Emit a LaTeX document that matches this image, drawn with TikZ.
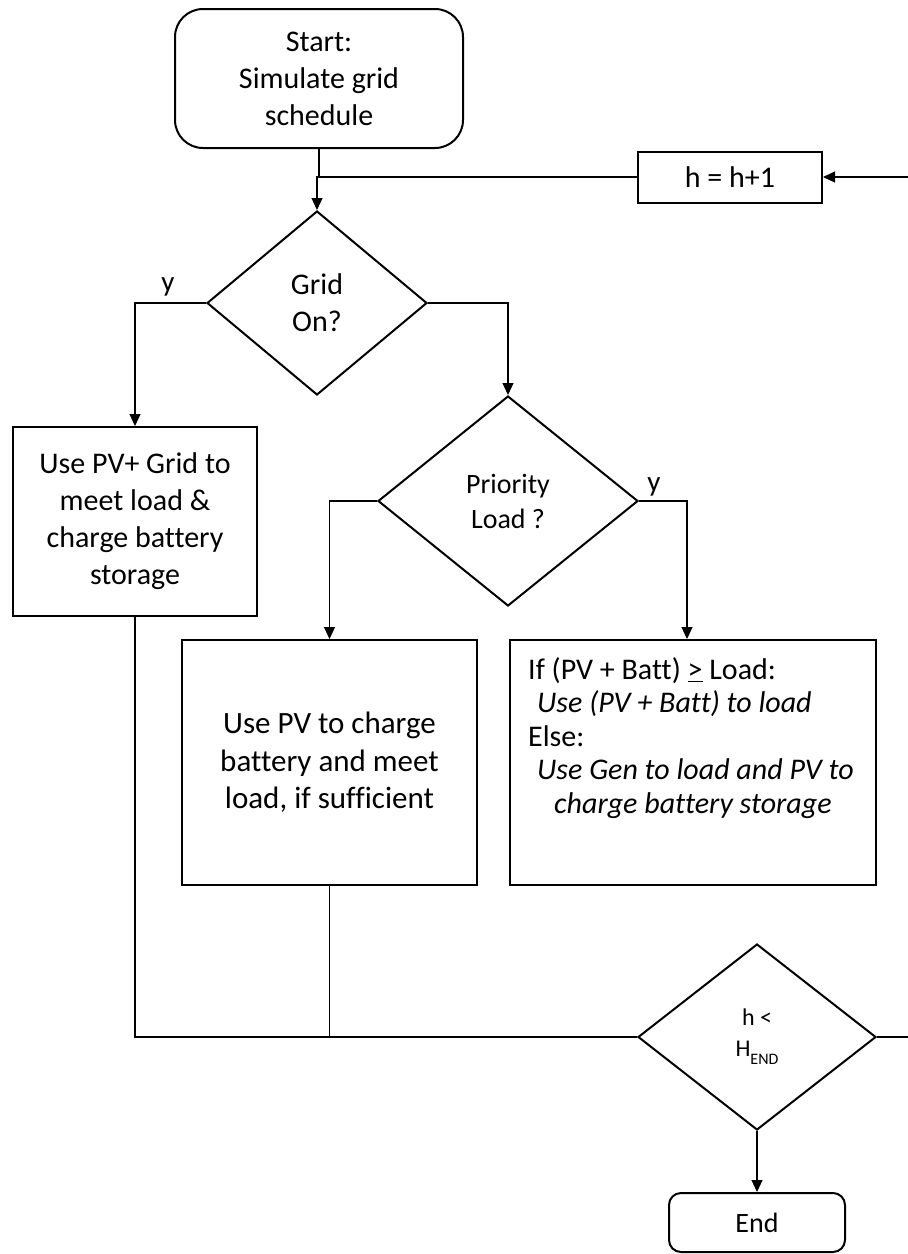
\documentclass[tikz,border=0pt]{standalone}
\usepackage{fontspec}
\setmainfont{Carlito}[Ligatures=NoCommon]
\usetikzlibrary{shapes.geometric,arrows.meta}
\begin{document}
\begin{tikzpicture}[x=1pt,y=-1pt,
  boxline/.style={draw=black,line width=2pt},
  procbox/.style={boxline,rectangle,inner sep=0pt,align=center},
  termbox/.style={boxline,rectangle,rounded corners=28pt,inner sep=0pt,align=center},
  decbox/.style={boxline,diamond,inner sep=0pt,align=center},
  conn/.style={draw=black,line width=1.1pt},
  arr/.style={conn,-{Triangle[length=12pt,width=11pt]}},
  txt30/.style={font=\fontsize{30}{37}\selectfont},
  lbl/.style={font=\fontsize{29}{34}\selectfont,inner sep=0pt}
]
\useasboundingbox (0,0) rectangle (908,1254);
\clip (0,0) rectangle (908,1254);

% nodes
\node[termbox,txt30,minimum width=288pt,minimum height=139pt] (start) at (319,78.5)
  {Start:\\Simulate grid\\schedule};
\node[procbox,txt30,minimum width=184pt,minimum height=51pt] (hinc) at (730,177)
  {h = h+1};
\node[decbox,txt30,minimum width=220pt,minimum height=184pt] (grid) at (317,303)
  {Grid\\On?};
\node[procbox,txt30,minimum width=244pt,minimum height=189pt] (pvgrid) at (135,521.5)
  {Use PV+ Grid to\\meet load \&\\charge battery\\storage};
\node[decbox,font=\fontsize{28}{35}\selectfont,minimum width=260pt,minimum height=210pt] (prio) at (508,501)
  {Priority\\Load ?};
\node[procbox,font=\fontsize{31}{37.5}\selectfont,minimum width=295pt,minimum height=245pt] (pvbatt) at (329.5,762.5)
  {Use PV to charge\\battery and meet\\load, if sufficient};
\node[procbox,minimum width=366pt,minimum height=245pt] (rbox) at (693,762.5) {};
\node[anchor=west,align=left,inner sep=0pt,font=\fontsize{30}{33.5}\selectfont] (rtext) at (528,738)
  {If (PV + Batt) \underline{>} Load:\\
   \hspace*{9pt}\textit{Use (PV + Batt) to load}\\
   Else:\\
   \hspace*{9pt}\textit{Use Gen to load and PV to}\\
   \hspace*{26pt}\textit{charge battery storage}};
\node[decbox,font=\fontsize{24}{31}\selectfont,minimum width=238pt,minimum height=186pt] (hend) at (757,1037)
  {h <\\H\raisebox{-8pt}{\fontsize{16}{18}\selectfont END}};
\node[termbox,rounded corners=12pt,font=\fontsize{28}{34}\selectfont,minimum width=176pt,minimum height=59pt] (endn) at (757,1222.5)
  {End};

% labels
\node[lbl] (ygrid) at (168,287) {y};
\node[lbl] (yprio) at (654,487) {y};

% connectors
\coordinate (merge) at (start.south |- hinc.west);
\draw[conn] (start.south) -- (merge);
\draw[arr] (hinc.west) -| (grid.north);
\draw[arr] (grid.west) -| (pvgrid.north);
\draw[arr] (grid.east) -| (prio.north);
\draw[arr] (prio.west) -| (pvbatt.north);
\draw[arr] (prio.east) -| ([xshift=-6pt]rbox.north);
\draw[conn] (pvgrid.south) |- (hend.west);
\draw[conn] (pvbatt.south) -- (pvbatt.south |- hend.west);
\draw[arr] (hend.south) -- (endn.north);
\coordinate (loopR) at (914,1037);
\coordinate (loopT) at (914,177);
\draw[conn] (hend.east) -- (loopR) -- (loopT);
\draw[arr] (loopT) -- (hinc.east);
\end{tikzpicture}
\end{document}
